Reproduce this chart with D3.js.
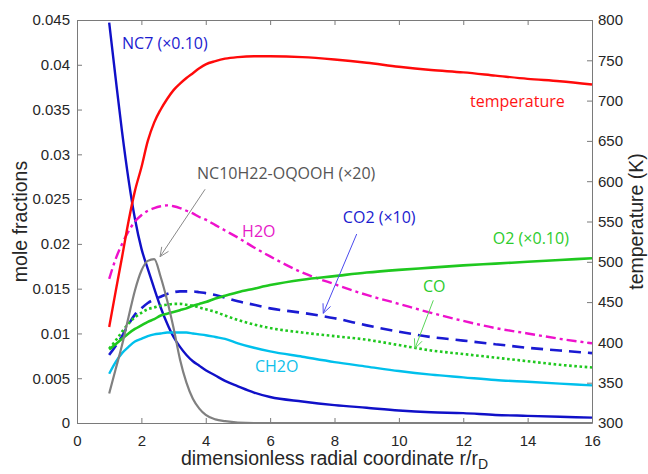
<!DOCTYPE html>
<html>
<head>
<meta charset="utf-8">
<script src="https://cdn.jsdelivr.net/npm/d3@7"></script>
<style>
  html, body { margin: 0; padding: 0; background: #fff; }
  svg { display: block; }
  .tick text { font-family: "Liberation Sans", Arial, sans-serif; font-size: 15px; fill: #262626; }
  .axis-title { font-family: "Liberation Sans", Arial, sans-serif; font-size: 19.5px; fill: #262626; }
  .lbl { font-family: "Open Sans", sans-serif; font-size: 16px; }
</style>
</head>
<body>
<svg id="chart" width="648" height="474"></svg>
<script>
// radial positions r/rD shared by every profile
const radius = [1, 1.2, 1.4, 1.6, 1.8, 2.0, 2.2, 2.4, 2.6, 2.8, 3.0, 3.2, 3.4, 3.6, 3.8, 4.0, 4.3, 4.6, 5.0, 5.5, 6, 7, 8, 9, 10, 11, 12, 13, 14, 15, 16];

// mole fractions (already multiplied by the factor shown in each label)
const nc7 = [0.0447, 0.0385, 0.0325, 0.0272, 0.0228, 0.0195, 0.0172, 0.0150, 0.0129, 0.0111, 0.0096, 0.0085, 0.0076, 0.0069, 0.0064, 0.0059, 0.0053, 0.0047, 0.0041, 0.0034, 0.0029, 0.0024, 0.0020, 0.0017, 0.0014, 0.0012, 0.0011, 0.0009, 0.0008, 0.0007, 0.0006];
const h2o = [0.0161, 0.0183, 0.0200, 0.0214, 0.0225, 0.0232, 0.0237, 0.0240, 0.0242, 0.0243, 0.0242, 0.0240, 0.0237, 0.0234, 0.0230, 0.0227, 0.0221, 0.0215, 0.0207, 0.0196, 0.0186, 0.0168, 0.0155, 0.0143, 0.0133, 0.0123, 0.0114, 0.0106, 0.0100, 0.0094, 0.0089];
const co2 = [0.0076, 0.0086, 0.0097, 0.0110, 0.0121, 0.0128, 0.0134, 0.0138, 0.0141, 0.0144, 0.0146, 0.0147, 0.0147, 0.0147, 0.0146, 0.0145, 0.0143, 0.0140, 0.0136, 0.0132, 0.0128, 0.0123, 0.0117, 0.0109, 0.0102, 0.0096, 0.0092, 0.0088, 0.0084, 0.0081, 0.0078];
const o2 = [0.0082, 0.0088, 0.0094, 0.0100, 0.0105, 0.0109, 0.0113, 0.0116, 0.0120, 0.0122, 0.0124, 0.0126, 0.0128, 0.0131, 0.0133, 0.0135, 0.0139, 0.0142, 0.0146, 0.0150, 0.0154, 0.0160, 0.0164, 0.0168, 0.0171, 0.01735, 0.0176, 0.0178, 0.0180, 0.0182, 0.0184];
const co = [0.0083, 0.0092, 0.0102, 0.0111, 0.0118, 0.0123, 0.0127, 0.0129, 0.0131, 0.0132, 0.0133, 0.0133, 0.0132, 0.0131, 0.0129, 0.0127, 0.0124, 0.0120, 0.0115, 0.0110, 0.0106, 0.0101, 0.0097, 0.0093, 0.0087, 0.0081, 0.0077, 0.0073, 0.0069, 0.0065, 0.0062];
const ch2o = [0.0055, 0.0068, 0.0078, 0.0085, 0.0091, 0.0094, 0.0097, 0.0099, 0.0100, 0.0101, 0.0101, 0.0101, 0.0101, 0.0100, 0.0099, 0.0098, 0.0096, 0.0094, 0.0089, 0.0084, 0.0080, 0.0074, 0.0068, 0.0063, 0.0058, 0.0054, 0.0051, 0.0048, 0.0046, 0.0044, 0.0042];
const oqooh = [0.0033, 0.0060, 0.0087, 0.0118, 0.0148, 0.0170, 0.0181, 0.0183, 0.0163, 0.0137, 0.0106, 0.0071, 0.0045, 0.0027, 0.0016, 0.0009, 0.0004, 0.0002, 0.00005, 0, 0, 0, 0, 0, 0, 0, 0, 0, 0, 0, 0];

// gas temperature (K), right axis
const temperature = [419, 463, 506, 550, 588, 617, 650, 673, 689, 702, 713, 721, 728, 734, 740, 745, 749, 752, 754, 755, 755, 754, 751, 747, 742, 738, 735, 731, 727, 724, 720];

// axis ticks
const xTicks = [0, 2, 4, 6, 8, 10, 12, 14, 16];
const yTicks = [0, 0.005, 0.01, 0.015, 0.02, 0.025, 0.03, 0.035, 0.04, 0.045];
const tTicks = [300, 350, 400, 450, 500, 550, 600, 650, 700, 750, 800];
const yTickLabels = ["0", "0.005", "0.01", "0.015", "0.02", "0.025", "0.03", "0.035", "0.04", "0.045"];

const svg = d3.select("#chart");
const margin = { left: 77, top: 20, right: 56, bottom: 51 };
const W = 648, H = 474;

const x = d3.scaleLinear().domain([0, 16]).range([margin.left, W - margin.right]);
const y = d3.scaleLinear().domain([0, 0.045]).range([H - margin.bottom, margin.top]);
const yT = d3.scaleLinear().domain([300, 800]).range([H - margin.bottom, margin.top]);

const axisColor = "#7a7a7a";

// axes (ticks point inward, box closed on all sides)
const gx = svg.append("g").attr("transform", `translate(0,${y(0)})`)
  .call(d3.axisBottom(x).tickValues(xTicks).tickSize(-5).tickSizeOuter(0).tickPadding(12));
const gxTop = svg.append("g").attr("transform", `translate(0,${margin.top})`)
  .call(d3.axisTop(x).tickValues(xTicks).tickSize(-5).tickSizeOuter(0).tickFormat(""));
const gy = svg.append("g").attr("transform", `translate(${x(0)},0)`)
  .call(d3.axisLeft(y).tickValues(yTicks).tickSize(-5).tickSizeOuter(0).tickPadding(7)
    .tickFormat((d, i) => yTickLabels[i]));
const gyR = svg.append("g").attr("transform", `translate(${x(16)},0)`)
  .call(d3.axisRight(yT).tickValues(tTicks).tickSize(-5).tickSizeOuter(0).tickPadding(6));

[gx, gxTop, gy, gyR].forEach(g => {
  g.select(".domain").attr("stroke", axisColor).attr("stroke-width", 1);
  g.selectAll(".tick line").attr("stroke", axisColor);
});

// axis titles
svg.append("text").attr("class", "axis-title")
  .attr("x", (x(0) + x(16)) / 2).attr("y", 465).attr("text-anchor", "middle")
  .html('dimensionless radial coordinate r/r<tspan dy="4" font-size="14px">D</tspan>');
svg.append("text").attr("class", "axis-title")
  .attr("transform", `translate(27,${(y(0) + y(0.045)) / 2}) rotate(-90)`)
  .attr("text-anchor", "middle").text("mole fractions");
svg.append("text").attr("class", "axis-title")
  .attr("transform", `translate(643,${(y(0) + y(0.045)) / 2}) rotate(-90)`)
  .attr("text-anchor", "middle").text("temperature (K)");

// profiles
const series = [
  { values: nc7, scale: y, color: "#1010c8", dash: null, width: 2.4 },
  { values: h2o, scale: y, color: "#ee11cc", dash: "10,4,3,4", width: 2.4 },
  { values: co2, scale: y, color: "#1a1ad2", dash: "12,7", width: 2.6 },
  { values: o2, scale: y, color: "#1fc81f", dash: null, width: 2.6 },
  { values: co, scale: y, color: "#1fc81f", dash: "2.6,2.6", width: 2.6 },
  { values: ch2o, scale: y, color: "#00c0ec", dash: null, width: 2.4 },
  { values: oqooh, scale: y, color: "#808080", dash: null, width: 2.2 },
  { values: temperature, scale: yT, color: "#ff0a0a", dash: null, width: 2.4 }
];

const plot = svg.append("g");
series.forEach(s => {
  const line = d3.line()
    .x((d, i) => x(radius[i]))
    .y(d => s.scale(d))
    .curve(d3.curveMonotoneX);
  plot.append("path")
    .attr("d", line(s.values))
    .attr("fill", "none")
    .attr("stroke", s.color)
    .attr("stroke-width", s.width)
    .attr("stroke-dasharray", s.dash);
});

// in-plot labels, placed in data coordinates (r, mole fraction)
const labels = [
  { text: "NC7 (\u00d70.10)", r: 1.40, v: 0.0418, color: "#1b1bcf" },
  { text: "temperature", r: 12.21, v: 0.0353, color: "#ff1414" },
  { text: "NC10H22-OQOOH (\u00d720)", r: 3.73, v: 0.0272, color: "#555555" },
  { text: "H2O", r: 5.13, v: 0.0208, color: "#e619c8" },
  { text: "CO2 (\u00d710)", r: 8.26, v: 0.0223, color: "#1b1bcf" },
  { text: "O2 (\u00d70.10)", r: 12.92, v: 0.0200, color: "#2ccc2c" },
  { text: "CO", r: 10.75, v: 0.0146, color: "#2ccc2c" },
  { text: "CH2O", r: 5.53, v: 0.0057, color: "#10c0ea" }
];
svg.selectAll("text.lbl").data(labels).enter().append("text")
  .attr("class", "lbl")
  .attr("x", d => x(d.r)).attr("y", d => y(d.v))
  .attr("fill", d => d.color)
  .text(d => d.text);

// pointer arrows from labels to curves
const arrows = [
  { r0: 3.98, v0: 0.0261, r1: 2.58, v1: 0.01857, color: "#8a8a8a" },
  { r0: 8.69, v0: 0.0211, r1: 7.65, v1: 0.01225, color: "#4a4aee" },
  { r0: 11.07, v0: 0.0137, r1: 10.5, v1: 0.00834, color: "#5ad65a" }
];
arrows.forEach(a => {
  const x0 = x(a.r0), y0 = y(a.v0), x1 = x(a.r1), y1 = y(a.v1);
  const ang = Math.atan2(y1 - y0, x1 - x0);
  const hl = 10, spread = 0.42;
  const g = svg.append("g").attr("stroke", a.color).attr("stroke-width", 1).attr("fill", "none");
  g.append("line").attr("x1", x0).attr("y1", y0).attr("x2", x1).attr("y2", y1);
  g.append("polyline").attr("points", [
    [x1 - hl * Math.cos(ang - spread), y1 - hl * Math.sin(ang - spread)],
    [x1, y1],
    [x1 - hl * Math.cos(ang + spread), y1 - hl * Math.sin(ang + spread)]
  ].map(p => p.join(",")).join(" "));
});
</script>
</body>
</html>
